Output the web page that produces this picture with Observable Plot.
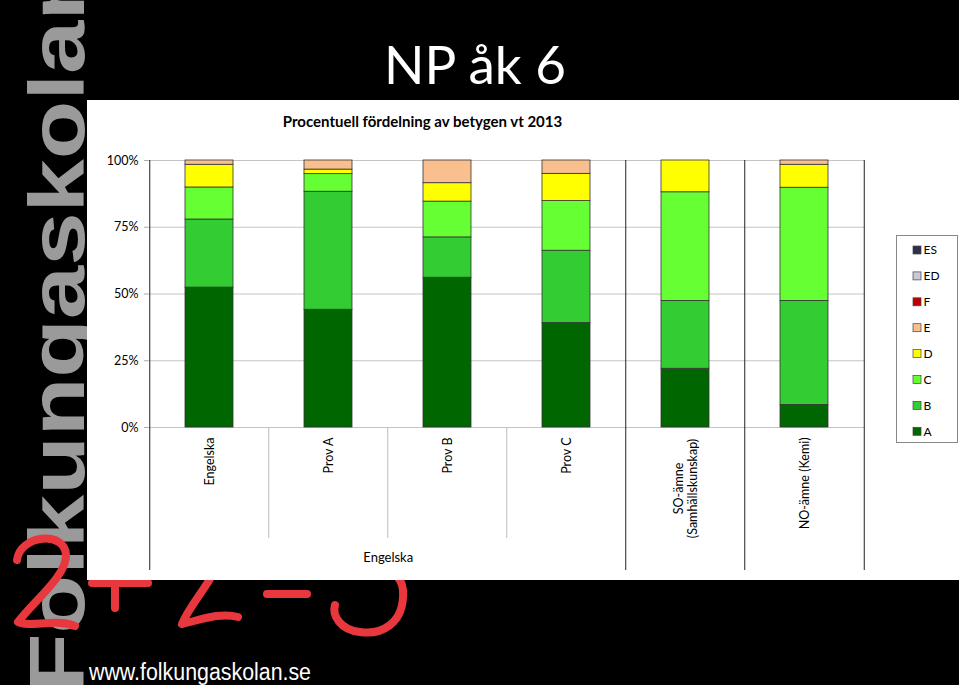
<!DOCTYPE html>
<html><head><meta charset="utf-8">
<script src="https://cdn.jsdelivr.net/npm/d3@7"></script>
<script src="https://cdn.jsdelivr.net/npm/@observablehq/plot@0.6"></script>
<style>
html,body{margin:0;padding:0;background:#000;}
#page{position:relative;width:959px;height:685px;overflow:hidden;background:#000;}
#page > svg{position:absolute;left:0;top:0;}
#chart{position:absolute;left:87px;top:100px;width:872px;height:480px;}
#chart svg{background:transparent !important;}
</style></head><body>
<div id="page">
  <svg id="under" width="959" height="685"></svg>
  <div id="chart"></div>
  <svg id="over" width="959" height="685" style="pointer-events:none"></svg>
</div>
<script>
// ---- data ----
const categories = ["Engelska", "Prov A", "Prov B", "Prov C", "SO-ämne\n(Samhällskunskap)", "NO-ämne (Kemi)"];
const groupLabel = ["Engelska"];
const grades = ["A", "B", "C", "D", "E", "F", "ED", "ES"];
const gradeColors = ["#006600", "#33cc33", "#66ff33", "#ffff00", "#fabf8f", "#c00000", "#c8c8d8", "#2e2e4e"];
const valuesA  = [52.4, 44.1, 56.1, 39.1, 22.0, 8.4];
const valuesB  = [25.5, 44.2, 15.1, 27.1, 25.4, 39.0];
const valuesC  = [12.0, 6.6, 13.4, 18.6, 40.7, 42.4];
const valuesD  = [8.5, 1.7, 6.9, 10.2, 11.9, 8.6];
const valuesE  = [1.6, 3.4, 8.5, 5.0, 0, 1.6];
const valuesF  = [0, 0, 0, 0, 0, 0];
const valuesED = [0, 0, 0, 0, 0, 0];
const valuesES = [0, 0, 0, 0, 0, 0];
const yTicks = [0, 25, 50, 75, 100];
const yTickLabels = ["0%", "25%", "50%", "75%", "100%"];
const title = "NP åk 6";
const subtitle = "Procentuell fördelning av betygen vt 2013";
const watermark = "Folkungaskolan";
const url = "www.folkungaskolan.se";

const seriesByGrade = {A: valuesA, B: valuesB, C: valuesC, D: valuesD, E: valuesE, F: valuesF, ED: valuesED, ES: valuesES};
const rows = [];
for (const g of grades) categories.forEach((c, i) => {
  const v = seriesByGrade[g][i];
  if (v > 0) rows.push({category: c, grade: g, value: v});
});

// ---- layout ----
const W = 872, H = 480;
const mL = 61, mR = 94, mT = 60, mB = 10;
const step = (W - mL - mR) / categories.length;
const font = "Lato, 'Open Sans', sans-serif";

// ---- background decorations ----
const under = d3.select("#under");
under.append("text")
  .attr("transform", "translate(84,692) rotate(-90)")
  .attr("font-family", "'Liberation Sans', Arial, sans-serif")
  .attr("font-weight", "bold").attr("font-size", 78)
  .attr("fill", "#9a9a9a")
  .attr("textLength", 730).attr("lengthAdjust", "spacingAndGlyphs")
  .text(watermark);
const red = under.append("g").attr("fill", "none").attr("stroke", "#e8383d")
  .attr("stroke-width", 8).attr("stroke-linecap", "round").attr("stroke-linejoin", "round");
red.append("path").attr("d", "M17 560 C20 535 65 530 66 555 C67 575 35 600 18 622 C30 628 55 618 75 626");
red.append("path").attr("d", "M92 583 L148 583 M115 560 L115 608");
red.append("path").attr("d", "M180 560 C190 540 225 545 215 570 C205 590 190 605 182 624 C200 620 220 612 238 617");
red.append("path").attr("d", "M267 594 L307 594");
red.append("path").attr("d", "M345 575 C350 560 400 560 403 590 C405 625 380 635 360 632 C340 630 332 615 335 605");
under.append("rect").attr("x", 87).attr("y", 100).attr("width", 872).attr("height", 480).attr("fill", "#fff");

// ---- chart ----
const soLabel = categories[4];
const plot = Plot.plot({
  width: W, height: H,
  marginLeft: mL, marginRight: mR, marginTop: mT, marginBottom: mB,
  style: {fontFamily: font, fontSize: "12px", background: "transparent"},
  x: {domain: categories, paddingInner: 0.6, paddingOuter: 0.3, axis: null},
  y: {domain: [0, 100], range: [327, 60], axis: null},
  color: {domain: grades, range: gradeColors},
  marks: [
    Plot.ruleY(yTicks, {stroke: "#c4c4c4"}),
    Plot.axisY({ticks: yTicks, tickFormat: d => yTickLabels[yTicks.indexOf(d)], tickSize: 4, tickPadding: 6,
      stroke: "#aaa", fill: "#000", fontSize: 12.5, label: null}),
    Plot.barY(rows, {x: "category", y: "value", fill: "grade", order: grades, stroke: "#333", strokeWidth: 0.8}),
    Plot.ruleX(categories.slice(1, 4), {x: d => d, dx: -step / 2, y1: () => 0, y2: () => 0, insetBottom: -111, stroke: "#bdbdbd"}),
    Plot.ruleX([categories[0], categories[4], categories[5]], {x: d => d, dx: -step / 2, stroke: "#222"}),
    Plot.ruleX([categories[5]], {x: d => d, dx: step / 2, stroke: "#222"}),
    Plot.text(categories.filter(c => c !== soLabel), {x: d => d, y: () => 0, text: d => d, rotate: -90, textAnchor: "end", dy: 10, fontSize: 12.5, fill: "#000"}),
    Plot.text([soLabel], {x: d => d, y: () => 0, text: d => d, rotate: -90, textAnchor: "middle", dy: 61, fontSize: 12.5, fill: "#000", lineHeight: 1.15}),
    Plot.text(groupLabel, {x: () => categories[1], y: () => 0, text: d => d, dx: step / 2, dy: 130, fontSize: 13, fill: "#000"})
  ]
});
document.getElementById("chart").append(plot);

// ---- overlay texts and legend ----
const over = d3.select("#over");
over.append("text").attr("x", 475).attr("y", 84).attr("text-anchor", "middle")
  .attr("font-family", font).attr("font-size", 53).attr("fill", "#fff").text(title);
over.append("text").attr("x", 422.5).attr("y", 127).attr("text-anchor", "middle")
  .attr("font-family", font).attr("font-weight", "bold").attr("font-size", 15).attr("fill", "#000").text(subtitle);
over.append("text").attr("x", 89).attr("y", 680)
  .attr("font-family", "'Liberation Sans Narrow', 'Arial Narrow', 'Liberation Sans', sans-serif")
  .attr("font-size", 23).attr("fill", "#fff")
  .attr("textLength", 222).attr("lengthAdjust", "spacingAndGlyphs").text(url);

const legendOrder = grades.slice().reverse();
const lg = over.append("g");
lg.append("rect").attr("x", 896.5).attr("y", 235.5).attr("width", 61).attr("height", 207)
  .attr("fill", "#fff").attr("stroke", "#888");
legendOrder.forEach((g, i) => {
  const cy = 250 + i * 25.9;
  lg.append("rect").attr("x", 913).attr("y", cy - 4).attr("width", 8).attr("height", 8)
    .attr("fill", gradeColors[grades.indexOf(g)]).attr("stroke", "#444").attr("stroke-width", 0.7);
  lg.append("text").attr("x", 923.5).attr("y", cy).attr("dy", "0.35em")
    .attr("font-family", font).attr("font-size", 12).attr("fill", "#000").text(g);
});
</script>
</body></html>
